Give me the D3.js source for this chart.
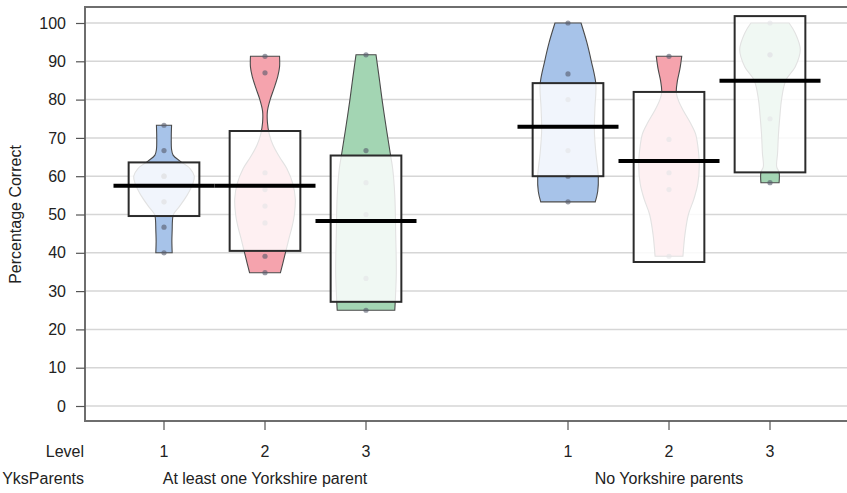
<!DOCTYPE html>
<html>
<head>
<meta charset="utf-8">
<script src="https://cdn.jsdelivr.net/npm/d3@7"></script>
<style>
  html, body { margin: 0; padding: 0; background: #fff; }
  svg { display: block; font-family: "Liberation Sans", Arial, sans-serif; }
</style>
</head>
<body>
<svg id="chart" width="847" height="493"></svg>
<script>
// ---------------- data ----------------
const groups = ["At least one Yorkshire parent", "No Yorkshire parents"];
const levels = ["1", "2", "3"];
const slots = ["A-1", "A-2", "A-3", "gap", "B-1", "B-2", "B-3"];
const beanSlots = ["A-1", "A-2", "A-3", "B-1", "B-2", "B-3"];
const beanLevel = [0, 1, 2, 0, 1, 2];
const yTicks = [0, 10, 20, 30, 40, 50, 60, 70, 80, 90, 100];

const means    = [57.5, 57.5, 48.3, 72.9, 64.0, 84.9];
const bandLow  = [49.6, 40.5, 27.2, 60.0, 37.6, 61.0];
const bandHigh = [63.6, 71.8, 65.4, 84.3, 82.0, 101.8];

const rawPoints = [
  [40.0, 46.7, 53.3, 53.3, 60.0, 60.0, 60.0, 66.7, 73.3],
  [34.8, 39.1, 47.8, 52.2, 56.5, 60.9, 87.0, 91.3],
  [25.0, 33.3, 50.0, 58.3, 66.7, 91.7],
  [53.3, 60.0, 66.7, 80.0, 86.7, 100.0],
  [39.1, 56.5, 60.9, 69.6, 91.3],
  [58.3, 75.0, 91.7, 91.7, 100.0]
];

// bean density profiles: [value, relative density]
const beanProfiles = [
  [[40,0.27],[43,0.26],[46,0.27],[48.5,0.28],[50,0.31],[52,0.5],[55,0.76],[58,0.95],[60,1.0],[62,0.86],[64,0.52],[65.5,0.3],[67,0.25],[70,0.24],[73.3,0.25]],
  [[34.8,0.51],[37,0.58],[40.5,0.69],[44,0.8],[47,0.9],[50,0.97],[54,1.0],[58,0.92],[62,0.72],[65,0.48],[68,0.27],[71,0.14],[74,0.08],[77,0.08],[80,0.17],[83,0.3],[86,0.42],[88.5,0.48],[91.3,0.48]],
  [[25,0.95],[28,0.97],[35,1.0],[45,0.98],[55,0.95],[62,0.88],[66,0.8],[72,0.68],[80,0.53],[86,0.43],[91.7,0.33]],
  [[53.3,0.9],[56,0.98],[60,1.0],[66,0.92],[72,0.87],[78,0.89],[84,0.92],[90,0.77],[95,0.62],[100,0.43]],
  [[39.1,0.46],[45,0.53],[50,0.64],[54,0.82],[58,0.95],[63,1.0],[68,0.95],[71,0.88],[74,0.7],[77,0.48],[80,0.3],[82,0.24],[85,0.28],[88,0.36],[91.3,0.42]],
  [[58.3,0.3],[61,0.3],[62.5,0.22],[66,0.25],[71,0.28],[76,0.33],[80,0.38],[85,0.52],[88.5,0.83],[93,1.0],[97.4,0.83],[100,0.63]]
];

const levelColors = ["#a7c3e9", "#f5a3ad", "#a3d5b3"];

// ---------------- layout ----------------
const svg = d3.select("#chart");
const plot = { left: 85, top: 7, right: 849, bottom: 421 };

const x = d3.scaleBand().domain(slots).range([113.5, 820.5]).paddingInner(0).paddingOuter(0);
const cx = s => x(s) + x.bandwidth() / 2;
const y = d3.scaleLinear().domain([0, 100]).range([406, 23]);

const beanHalf = x.bandwidth() * 0.30;
const boxHalf = x.bandwidth() * 0.35;
const meanHalf = x.bandwidth() * 0.5;

// gridlines
svg.append("g").selectAll("line").data(yTicks).join("line")
  .attr("x1", plot.left).attr("x2", plot.right)
  .attr("y1", d => y(d)).attr("y2", d => y(d))
  .attr("stroke", "#d6d6d6").attr("stroke-width", 1.5);

// beans
const area = (c) => d3.area()
  .y(d => y(d[0]))
  .x0(d => c - beanHalf * d[1])
  .x1(d => c + beanHalf * d[1])
  .curve(d3.curveCatmullRom);

const beans = svg.append("g");
beanSlots.forEach((s, i) => {
  const c = cx(s);
  beans.append("path")
    .attr("d", area(c)(beanProfiles[i]))
    .attr("fill", levelColors[beanLevel[i]])
    .attr("stroke", "#4a4a4a")
    .attr("stroke-width", 1.1);
});

// points
const pts = svg.append("g");
beanSlots.forEach((s, i) => {
  pts.selectAll(null).data(rawPoints[i]).join("circle")
    .attr("cx", cx(s))
    .attr("cy", d => y(d))
    .attr("r", 2.6)
    .attr("fill", "#555a6a")
    .attr("fill-opacity", 0.6);
});

// inference boxes
svg.append("g").selectAll("rect").data(beanSlots).join("rect")
  .attr("x", s => cx(s) - boxHalf)
  .attr("width", boxHalf * 2)
  .attr("y", (s, i) => y(bandHigh[i]))
  .attr("height", (s, i) => y(bandLow[i]) - y(bandHigh[i]))
  .attr("fill", "#ffffff").attr("fill-opacity", 0.84)
  .attr("stroke", "#2b2b2b").attr("stroke-width", 2);

// mean lines
svg.append("g").selectAll("line").data(beanSlots).join("line")
  .attr("x1", s => cx(s) - meanHalf)
  .attr("x2", s => cx(s) + meanHalf)
  .attr("y1", (s, i) => y(means[i]))
  .attr("y2", (s, i) => y(means[i]))
  .attr("stroke", "#000").attr("stroke-width", 4);

// plot frame
svg.append("rect")
  .attr("x", plot.left).attr("y", plot.top)
  .attr("width", plot.right - plot.left).attr("height", plot.bottom - plot.top)
  .attr("fill", "none").attr("stroke", "#6e6e6e").attr("stroke-width", 2);

// y axis
const yAxis = d3.axisLeft(y).tickValues(yTicks).tickSize(9).tickPadding(10);
const ya = svg.append("g").attr("transform", `translate(${plot.left},0)`).call(yAxis);
ya.select(".domain").remove();
ya.selectAll(".tick line").attr("stroke", "#555").attr("stroke-width", 1.2);
ya.selectAll(".tick text").attr("font-size", 16).attr("fill", "#222")
  .attr("font-family", "Liberation Sans, Arial, sans-serif");

svg.append("text")
  .attr("transform", `translate(21,${(y(0) + y(100)) / 2}) rotate(-90)`)
  .attr("text-anchor", "middle")
  .attr("font-size", 16).attr("fill", "#222")
  .text("Percentage Correct");

// bottom ticks
const usedSlots = slots.filter(s => s !== "gap");
svg.append("g").selectAll("line").data(usedSlots).join("line")
  .attr("x1", s => cx(s)).attr("x2", s => cx(s))
  .attr("y1", plot.bottom).attr("y2", plot.bottom + 9)
  .attr("stroke", "#555").attr("stroke-width", 1.2);

// level labels
svg.append("text").attr("x", 84).attr("y", 457).attr("text-anchor", "end")
  .attr("font-size", 16).attr("fill", "#222").text("Level");
svg.append("g").selectAll("text").data(usedSlots).join("text")
  .attr("x", s => cx(s)).attr("y", 457).attr("text-anchor", "middle")
  .attr("font-size", 16).attr("fill", "#222")
  .text((s, i) => levels[i % 3]);

// group labels
svg.append("text").attr("x", 84).attr("y", 484).attr("text-anchor", "end")
  .attr("font-size", 16).attr("fill", "#222").text("YksParents");
svg.append("g").selectAll("text").data(groups).join("text")
  .attr("x", (g, i) => cx(i === 0 ? "A-2" : "B-2")).attr("y", 484).attr("text-anchor", "middle")
  .attr("font-size", 16).attr("fill", "#222")
  .text(g => g);
</script>
</body>
</html>
